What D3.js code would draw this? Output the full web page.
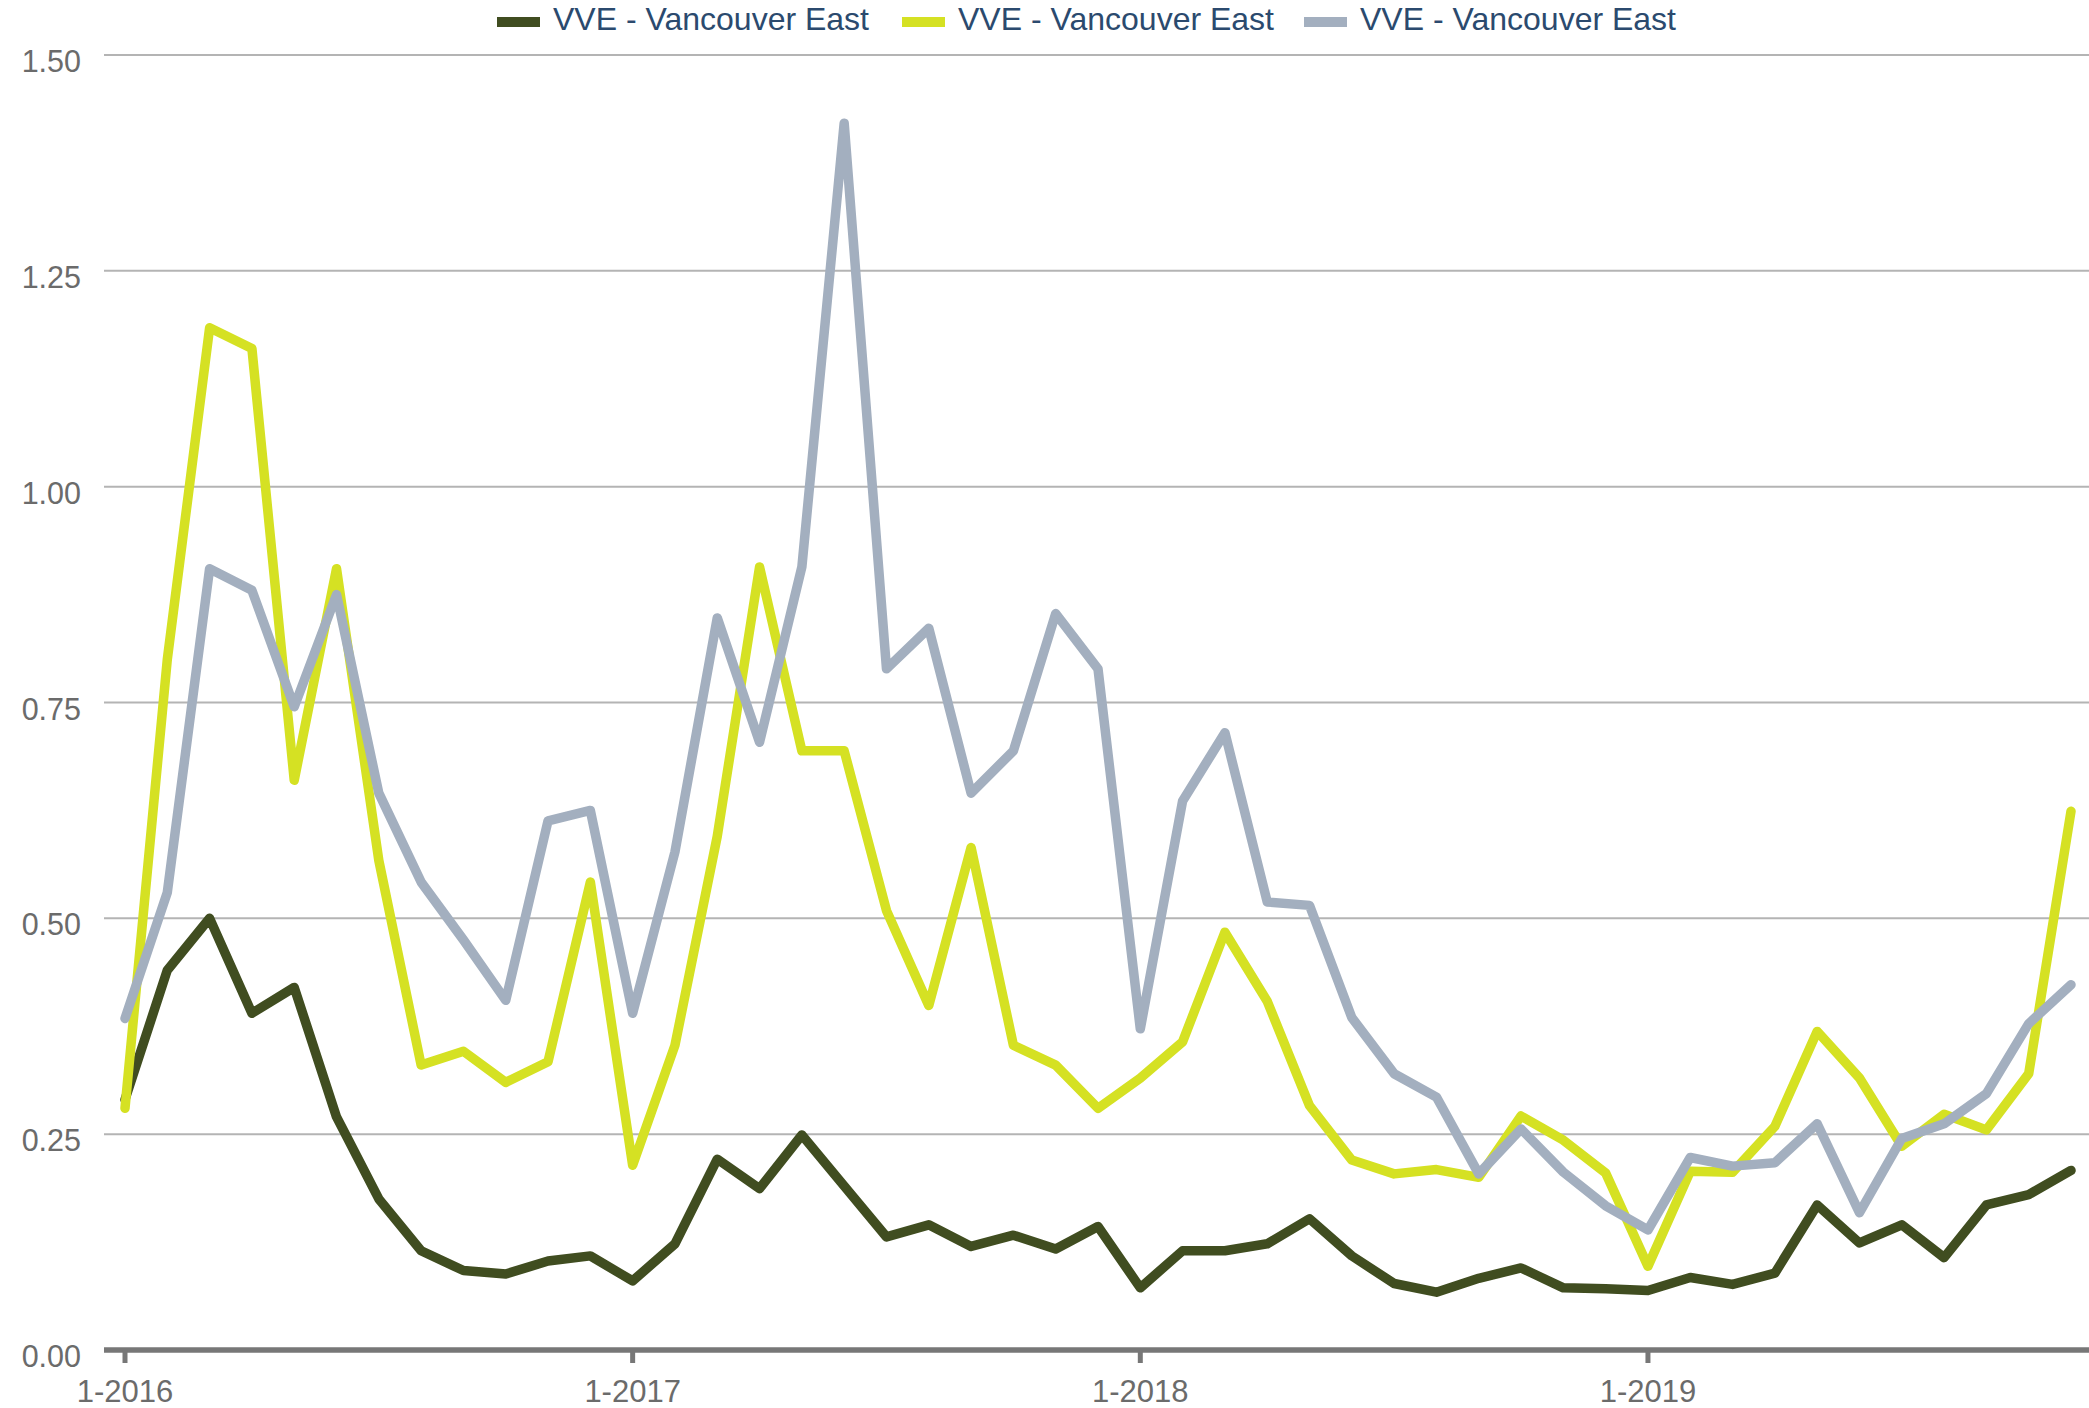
<!DOCTYPE html>
<html>
<head>
<meta charset="utf-8">
<script src="https://cdn.jsdelivr.net/npm/d3@7"></script>
<style>
  html, body { margin: 0; padding: 0; background: #ffffff; }
  svg { display: block; }
  text { font-family: "Liberation Sans", Arial, sans-serif; }
</style>
</head>
<body>
<svg id="chart" width="2089" height="1408"></svg>
<script>
// ---------- data ----------
const months = d3.timeMonth.range(new Date(2016, 0, 1), new Date(2019, 11, 1)); // Jan 2016 .. Nov 2019 (47)
const seriesNames = ["VVE - Vancouver East", "VVE - Vancouver East", "VVE - Vancouver East"];
const seriesColors = ["#404d20", "#d5e123", "#a3afbf"];

const darkValues = [0.29,0.44,0.50,0.39,0.42,0.27,0.175,0.115,0.092,0.088,0.103,0.109,
  0.08,0.123,0.221,0.187,0.249,0.19,0.131,0.145,0.12,0.133,0.117,0.143,
  0.072,0.115,0.115,0.123,0.152,0.109,0.077,0.067,0.083,0.095,0.072,0.071,
  0.069,0.084,0.076,0.089,0.168,0.124,0.145,0.107,0.168,0.18,0.208];
const yellowValues = [0.28,0.80,1.184,1.16,0.66,0.905,0.567,0.33,0.346,0.31,0.334,0.542,
  0.214,0.353,0.595,0.907,0.694,0.694,0.509,0.399,0.582,0.353,0.33,0.28,
  0.315,0.357,0.484,0.404,0.283,0.22,0.204,0.209,0.2,0.271,0.243,0.205,
  0.097,0.207,0.206,0.259,0.369,0.315,0.236,0.273,0.255,0.32,0.624];
const grayValues = [0.384,0.53,0.905,0.88,0.745,0.875,0.645,0.542,0.475,0.405,0.613,0.625,
  0.39,0.577,0.848,0.704,0.907,1.421,0.789,0.836,0.645,0.694,0.853,0.789,
  0.372,0.636,0.715,0.519,0.515,0.385,0.32,0.293,0.204,0.256,0.206,0.167,
  0.139,0.223,0.213,0.217,0.262,0.159,0.245,0.262,0.297,0.378,0.423];

const yTicks = [0, 0.25, 0.5, 0.75, 1.0, 1.25, 1.5];
const xTickMonths = [0, 12, 24, 36]; // indexes of January
const xTickLabels = ["1-2016", "1-2017", "1-2018", "1-2019"];

// ---------- layout ----------
const svg = d3.select("#chart");
const gridLeft = 104, gridRight = 2089;
const x = d3.scalePoint().domain(d3.range(months.length)).range([125, 2071]);
const y = d3.scaleLinear().domain([0, 1.5]).range([1350, 55]);

// gridlines
svg.append("g").selectAll("line")
  .data(yTicks.filter(d => d > 0))
  .join("line")
  .attr("x1", gridLeft).attr("x2", gridRight)
  .attr("y1", d => y(d)).attr("y2", d => y(d))
  .attr("stroke", "#b4b4b4").attr("stroke-width", 2);

// y labels
svg.append("g").selectAll("text")
  .data(yTicks)
  .join("text")
  .attr("x", 81).attr("y", d => y(d) + 9)
  .attr("text-anchor", "end")
  .attr("dominant-baseline", "middle")
  .attr("fill", "#6b6b6b")
  .attr("font-size", 30.5)
  .text(d => d3.format(".2f")(d));

// x axis line
svg.append("line")
  .attr("x1", gridLeft).attr("x2", gridRight)
  .attr("y1", y(0)).attr("y2", y(0))
  .attr("stroke", "#777777").attr("stroke-width", 5.5);

// ticks
svg.append("g").selectAll("line")
  .data(xTickMonths)
  .join("line")
  .attr("x1", d => x(d)).attr("x2", d => x(d))
  .attr("y1", y(0)).attr("y2", y(0) + 13)
  .attr("stroke", "#777777").attr("stroke-width", 5);

svg.append("g").selectAll("text")
  .data(xTickMonths)
  .join("text")
  .attr("x", d => x(d)).attr("y", 1394)
  .attr("text-anchor", "middle")
  .attr("dominant-baseline", "middle")
  .attr("fill", "#6b6b6b")
  .attr("font-size", 31)
  .text((d, i) => xTickLabels[i]);

// lines
const allSeries = [darkValues, yellowValues, grayValues];
const line = d3.line().x((d, i) => x(i)).y(d => y(d));
svg.append("g").selectAll("path")
  .data(allSeries)
  .join("path")
  .attr("d", d => line(d))
  .attr("fill", "none")
  .attr("stroke", (d, i) => seriesColors[i])
  .attr("stroke-width", 9.5)
  .attr("stroke-linejoin", "round")
  .attr("stroke-linecap", "round");

// legend
const legendX = [497, 902, 1304];
const legend = svg.append("g").selectAll("g")
  .data(seriesNames)
  .join("g")
  .attr("transform", (d, i) => `translate(${legendX[i]},22)`);
legend.append("rect")
  .attr("x", 0).attr("y", -5).attr("width", 43).attr("height", 10)
  .attr("fill", (d, i) => seriesColors[i]);
legend.append("text")
  .attr("x", 56).attr("y", 0)
  .attr("dominant-baseline", "middle")
  .attr("fill", "#2b4a6e")
  .attr("font-size", 32)
  .text(d => d);
</script>
</body>
</html>
